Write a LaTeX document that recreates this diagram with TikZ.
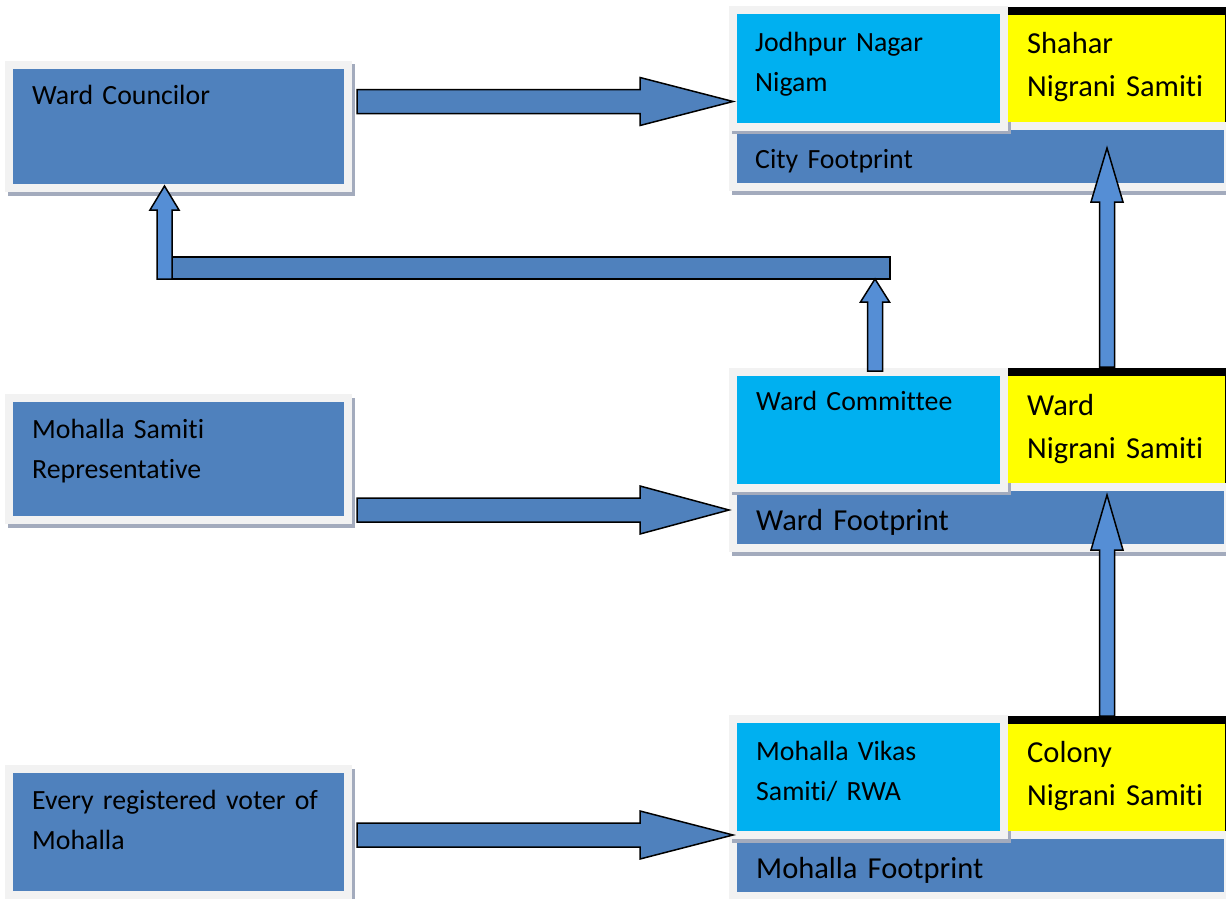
\documentclass[tikz,border=0pt]{standalone}
\usepackage{fontspec}
\setmainfont{Carlito}[Ligatures=NoCommon]
\usepackage{tikz}
\usetikzlibrary{shadows}
\usetikzlibrary{calc}
\definecolor{boxblue}{HTML}{4F81BD}
\definecolor{arrowblue}{HTML}{558ED5}
\definecolor{unitcyan}{HTML}{00B0F0}
\definecolor{nigraniyellow}{HTML}{FFFF00}
\definecolor{frame}{HTML}{F2F2F2}
\definecolor{shade}{HTML}{A3ABBD}
\tikzstyle{box}=[rectangle,fill=boxblue,draw=frame,line width=8pt,inner sep=0pt,minimum width=339pt,
  drop shadow={shadow xshift=2.5pt,shadow yshift=-3.5pt,opacity=1,fill=shade,draw=shade,line width=8pt}]
\tikzstyle{unit}=[box,fill=unitcyan,minimum width=271pt,minimum height=116pt]
\tikzstyle{footprint}=[box,minimum width=495pt,minimum height=61pt]
\tikzstyle{nigrani}=[rectangle,fill=nigraniyellow,inner sep=0pt,outer sep=0pt,minimum width=218pt,minimum height=107pt]
\tikzstyle{topbar}=[draw,line width=8pt]
\tikzstyle{sidebar}=[draw,line width=1.5pt]
\tikzstyle{txt}=[anchor=base west,inner sep=0pt,align=left,text width=330pt,font=\fontsize{27.8}{40}\selectfont]
\tikzstyle{bigtxt}=[txt,font=\fontsize{30.5}{43}\selectfont]
\tikzstyle{blockarrow}=[draw=black,line width=1.5pt,line join=miter]
% block arrow: from, to, half shaft, half head, head length, fill
\newcommand{\blockarrow}[6]{%
  \coordinate (hb) at ($(#2)!#5!(#1)$);
  \path[blockarrow,fill=#6] ($(#1)!#3!90:(#2)$) -- ($(hb)!#3!90:(#2)$) -- ($(hb)!#4!90:(#2)$) -- (#2)
     -- ($(hb)!#4!-90:(#2)$) -- ($(hb)!#3!-90:(#2)$) -- ($(#1)!#3!-90:(#2)$) -- cycle;
}

\begin{document}
\begin{tikzpicture}[x=1pt,y=-1pt]
    \useasboundingbox (0,0) rectangle (1226,899);
    % The members on the left
    \foreach \pos/\h/\name in {{(178.5,126.5)/123/wc}, {(178.5,459)/122/ms}, {(178.5,832)/126/ev}}
        \node[box, minimum height=\h pt] (\name) at \pos {};
    % The three levels: footprint, unit and nigrani samiti
    \foreach \y/\f/\u/\n in {68.5/cf/jn/ys, 429.5/wf/wcm/wns, 777/mf/mv/cns}
    {
        \node[footprint] (\f) at (980.5,\y+88) {};
        \node[unit] (\u) at (868.5,\y) {};
        \node[nigrani] (\n) at (1117,\y) {};
        \draw[topbar] ([yshift=4pt]\n.north west) -- ([yshift=4pt]\n.north east);
        \draw[sidebar] ([xshift=-0.75pt]\n.north east) -- ([xshift=-0.75pt]\n.south east);
    }

    % Arrow ends
    \coordinate (wcout) at (357,101.5);  \coordinate (jnin) at (733,101.5);
    \coordinate (msout) at (357,510);    \coordinate (wcmin) at (729,510);
    \coordinate (evout) at (357,835);    \coordinate (mvin) at (733,835);
    \coordinate (wnsout) at (1107,367);  \coordinate (cfin) at (1107,148);
    \coordinate (cnsout) at (1107,716);  \coordinate (wfin) at (1107,495);
    \coordinate (wcmout) at (875,371);   \coordinate (barin) at (875,279);
    \coordinate (barend) at (164.5,279); \coordinate (barright) at (890,257);
    \coordinate (wcin) at (164.5,186);

    \draw[blockarrow,fill=boxblue] (barend) rectangle (barright);
    \blockarrow{wcout}{jnin}{12pt}{24pt}{93pt}{boxblue}
    \blockarrow{msout}{wcmin}{12pt}{24pt}{89pt}{boxblue}
    \blockarrow{evout}{mvin}{12pt}{24pt}{93pt}{boxblue}
    \blockarrow{wnsout}{cfin}{7.5pt}{16pt}{54pt}{arrowblue}
    \blockarrow{cnsout}{wfin}{7.5pt}{16pt}{55pt}{arrowblue}
    \blockarrow{wcmout}{barin}{7.5pt}{14.5pt}{23pt}{arrowblue}
    \blockarrow{barend}{wcin}{7.5pt}{14.5pt}{24pt}{arrowblue}

    % Texts
    \foreach \pos/\name/\words in {{(32,104)/wct/{Ward Councilor}},
                                   {(32,438)/mst/{Mohalla Samiti\\Representative}},
                                   {(32,809)/evt/{Every registered voter of\\Mohalla}},
                                   {(755,52)/jnt/{Jodhpur Nagar\\Nigam}},
                                   {(756,410)/wcmt/{Ward Committee}},
                                   {(756,760)/mvt/{Mohalla Vikas\\Samiti/ RWA}},
                                   {(755,168)/cft/{City Footprint}}}
        \node[txt] (\name) at \pos {\words};
    \foreach \pos/\name/\words in {{(1027,54)/yst/{Shahar\\Nigrani Samiti}},
                                   {(1027,415)/wnst/{Ward\\Nigrani Samiti}},
                                   {(1027,762)/cnst/{Colony\\Nigrani Samiti}},
                                   {(756,530)/wft/{Ward Footprint}},
                                   {(756,878)/mft/{Mohalla Footprint}}}
        \node[bigtxt] (\name) at \pos {\words};
\end{tikzpicture}
\end{document}
